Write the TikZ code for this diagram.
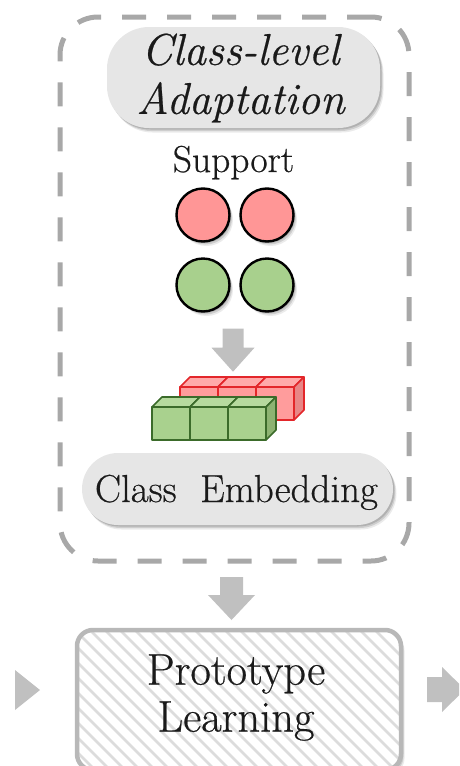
\documentclass[tikz,border=0pt]{standalone}
\usepackage{fontspec}
\setmainfont{Latin Modern Roman}[FakeBold=0.5]
\usetikzlibrary{calc}

\definecolor{pillgray}{HTML}{E6E6E6}
\definecolor{framegray}{HTML}{A8A8A8}
\definecolor{arrowgray}{HTML}{C0C0C0}
\definecolor{ballred}{HTML}{FF9696}
\definecolor{ballgreen}{HTML}{A8D08D}
\definecolor{cubered}{HTML}{FF9C9C}
\definecolor{cuberedtop}{HTML}{FFAAAA}
\definecolor{cuberedside}{HTML}{E88686}
\definecolor{cuberedline}{HTML}{E3262A}
\definecolor{cubegreen}{HTML}{A9D18E}
\definecolor{cubegreentop}{HTML}{B6DA9E}
\definecolor{cubegreenside}{HTML}{8DB372}
\definecolor{cubegreenline}{HTML}{3B6B2A}
\definecolor{boxline}{HTML}{B8B8B8}
\definecolor{hatchgray}{HTML}{DCDCDC}
\definecolor{ink}{HTML}{1A1A1A}

\tikzset{
  softshadow/.style={
    preaction={fill=black, fill opacity=0.08, draw=none,
      transform canvas={xshift=3.5pt, yshift=-4.5pt}},
    preaction={fill=black, fill opacity=0.12, draw=none,
      transform canvas={xshift=2.5pt, yshift=-3pt}},
    preaction={fill=black, fill opacity=0.14, draw=none,
      transform canvas={xshift=1.5pt, yshift=-1.5pt}}},
  pill/.style={rectangle, fill=pillgray, inner sep=0pt, softshadow},
  ball/.style={circle, draw=black, line width=2.4pt, minimum size=53pt,
      inner sep=0pt, softshadow},
  redball/.style={ball, fill=ballred},
  greenball/.style={ball, fill=ballgreen},
  groupbox/.style={rectangle, draw=framegray, line width=5pt,
      dash pattern=on 24pt off 21pt, rounded corners=38pt, inner sep=0pt},
  protobox/.style={rectangle, draw=boxline, line width=4.5pt, rounded corners=16pt,
      inner sep=0pt},
  label/.style={inner sep=0pt, anchor=base, text=ink},
  heavy/.style={font=#1\addfontfeature{FakeBold=0.5}},
}

% one cube: #1,#2 = bottom-left corner of the front face; #3 front, #4 top,
% #5 side, #6 edge colour
\newcommand\cubecell[6]{%
  \filldraw[fill=#3, draw=#6, line width=1.6pt, line join=round]
    (#1,#2) rectangle ++(38,-33);
  \filldraw[fill=#4, draw=#6, line width=1.6pt, line join=round]
    (#1,#2) ++(0,-33) -- ++(10,-10) -- ++(38,0) -- ++(-10,10) -- cycle;
  \filldraw[fill=#5, draw=#6, line width=1.6pt, line join=round]
    (#1,#2) ++(38,0) -- ++(10,-10) -- ++(0,-33) -- ++(-10,10) -- cycle;
}

% downward block arrow hanging from a named coordinate
\newcommand\blockdown[5]{%
  \fill[arrowgray] (#1) ++(-#2,0) -- ++(2*#2,0) -- ++(0,#3) -- ++(#4-#2,0)
    -- ++(-#4,#5) -- ++(-#4,-#5) -- ++(#4-#2,0) -- cycle;
}

\begin{document}
\begin{tikzpicture}[x=1pt, y=-1pt]
\useasboundingbox (0,0) rectangle (459,766);

% dashed group frame
\node[groupbox, minimum width=349pt, minimum height=544pt] (group) at (234.5,289) {};

% title pill
\node[pill, rounded corners=42pt, minimum width=273pt, minimum height=101pt]
  (titlepill) at (243.5,77.5) {};
\node[align=center, inner sep=0pt, text=ink,
  heavy={\fontsize{44.5}{49}\selectfont\itshape}]
  (title) at (240.5,78) {Class-level\\Adaptation};

% support set
\node[label, heavy={\fontsize{37.5}{40}\selectfont}] (support) at (233.5,172) {Support};
\node[redball]   (r1) at (203,215) {};
\node[redball]   (r2) at (267,215) {};
\node[greenball] (g1) at (203,285) {};
\node[greenball] (g2) at (267,285) {};

% arrow from the support set to the class embeddings
\coordinate (arrA) at ($(g1.south)!0.5!(g2.south)+(-2,16)$);
\blockdown{arrA}{10.5}{19}{21.5}{24}

% class embedding cubes: red row behind, green row in front
\cubecell{180}{420}{cubered}{cuberedtop}{cuberedside}{cuberedline}
\cubecell{218}{420}{cubered}{cuberedtop}{cuberedside}{cuberedline}
\cubecell{256}{420}{cubered}{cuberedtop}{cuberedside}{cuberedline}
\cubecell{152}{440}{cubegreen}{cubegreentop}{cubegreenside}{cubegreenline}
\cubecell{190}{440}{cubegreen}{cubegreentop}{cubegreenside}{cubegreenline}
\cubecell{228}{440}{cubegreen}{cubegreentop}{cubegreenside}{cubegreenline}

% class embedding pill
\node[pill, rounded corners=36pt, minimum width=311pt, minimum height=72pt]
  (embpill) at (237.5,489) {};
\node[label, heavy={\fontsize{39}{41}\selectfont}] (emb) at (236.5,502)
  {Class\ \ Embedding};

% prototype learning box: white body, diagonal hatching, grey rim
\fill[rounded corners=16pt, white, softshadow] (77,630) rectangle (401,770);
\begin{scope}
  \clip[rounded corners=16pt] (77,630) rectangle (401,770);
  \foreach \k in {-160,-145,...,420}
    \draw[hatchgray, line width=2.6pt] (\k,620) -- ++(170,170);
\end{scope}
\node[protobox, minimum width=324pt, minimum height=140pt] (proto) at (239,700) {};
\node[align=center, inner sep=0pt, text=ink,
  heavy={\fontsize{44.5}{47}\selectfont}]
  (protolabel) at (236,697.5) {Prototype\\Learning};

% arrow from the group frame into the prototype box
\coordinate (arrBtop) at (231.5,577);
\blockdown{arrBtop}{11.5}{18}{23.5}{25}

% side arrows entering and leaving the prototype box
\coordinate (inTip) at (40,690);
\coordinate (outTail) at (427,689.5);
\fill[arrowgray] (inTip) -- ++(-25,-20) -- ++(0,40) -- cycle;
\begin{scope}
  \clip (0,0) rectangle (459,766);
  \fill[arrowgray] (outTail) ++(0,-12.5) -- ++(15,0) -- ++(0,-10)
    -- ++(23,22.5) -- ++(-23,22.5) -- ++(0,-10) -- ++(-15,0) -- cycle;
\end{scope}
\end{tikzpicture}
\end{document}
